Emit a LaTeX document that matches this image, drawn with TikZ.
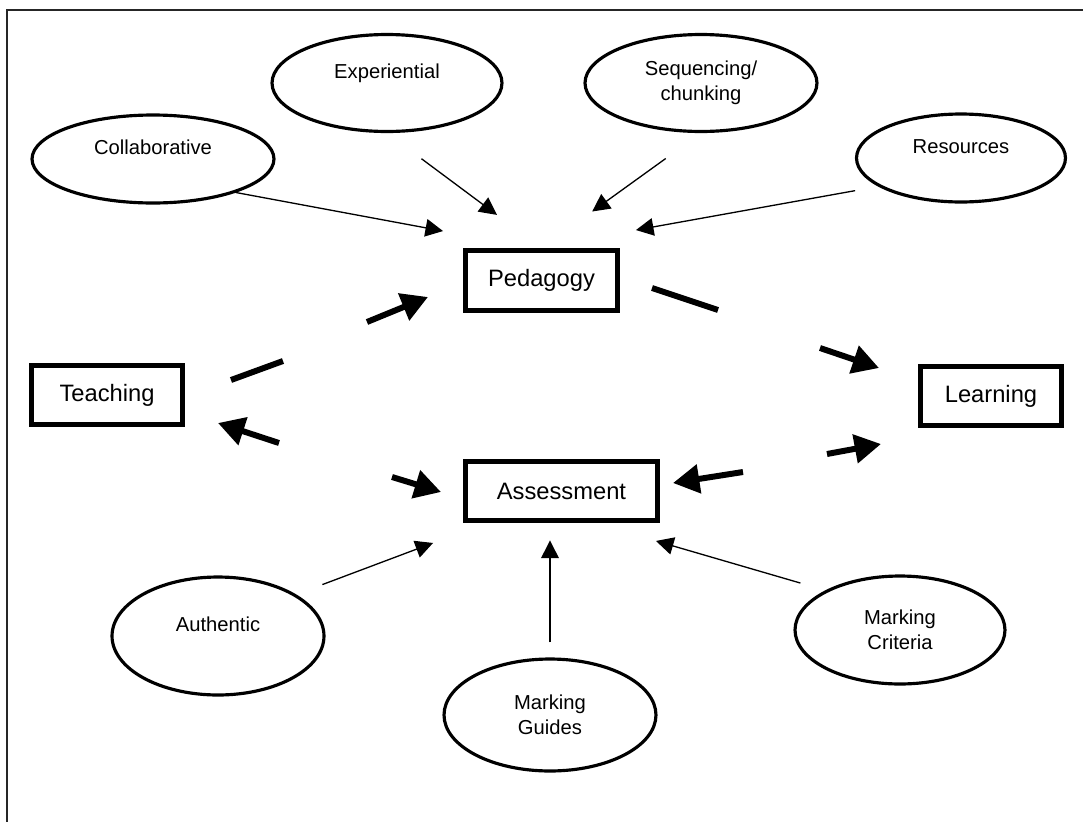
\documentclass[tikz,border=0pt]{standalone}
\usepackage{fontspec}
\setmainfont{Liberation Sans}
\usetikzlibrary{arrows.meta, shapes.geometric}

\tikzset{
    frame/.style={line width=1.1pt, black!85},
    box/.style={draw, rectangle, line width=2.8pt, inner sep=0pt, font=\fontsize{13.5}{16}\selectfont},
    oval/.style={draw, ellipse, line width=1.8pt, inner sep=0pt, align=center, font=\fontsize{11.5}{14}\selectfont},
    raised/.style={text depth=13pt},
    feed/.style={line width=0.75pt, -{Triangle[length=10pt, width=10pt]}},
    bold/.style={line width=3.4pt},
    boldarrow/.style={bold, -{Triangle[length=15pt, width=16pt]}}
}

\begin{document}
\begin{tikzpicture}[x=0.02cm, y=-0.02cm]
        \useasboundingbox (0,0) rectangle (1083,822);

        % Frame
        \draw[frame] (7,822) -- (7,10) -- (1083,10);

        % Teaching
        \node[box, minimum width=3.02cm, minimum height=1.18cm] (teaching) at (107,395) {Teaching};

        % Pedagogy
        \node[box, minimum width=3.04cm, minimum height=1.2cm] (pedagogy) at (541.5,280.5) {Pedagogy};

        % Assessment
        \node[box, minimum width=3.84cm, minimum height=1.18cm] (assessment) at (561.5,491) {Assessment};

        % Learning
        \node[box, minimum width=2.82cm, minimum height=1.18cm] (learning) at (991,396) {Learning};

        % Collaborative
        \node[oval, raised, minimum width=4.84cm, minimum height=1.76cm] (collab) at (153,159) {Collaborative};

        % Experiential
        \node[oval, raised, minimum width=4.6cm, minimum height=1.94cm] (experiential) at (387,83) {Experiential};

        % Sequencing/chunking
        \node[oval, minimum width=4.64cm, minimum height=1.94cm] (sequencing) at (701,83) {Sequencing/\\chunking};

        % Resources
        \node[oval, raised, minimum width=4.18cm, minimum height=1.76cm] (resources) at (961,158) {Resources};

        % Authentic
        \node[oval, raised, minimum width=4.24cm, minimum height=2.36cm] (authentic) at (218,636) {Authentic};

        % Marking Guides
        \node[oval, minimum width=4.24cm, minimum height=2.24cm] (guides) at (550,715) {Marking\\Guides};

        % Marking Criteria
        \node[oval, minimum width=4.2cm, minimum height=2.16cm] (criteria) at (900,630) {Marking\\Criteria};

        % Thin arrows
        \draw[feed] (collab.-22) -- ([shift={(-20,-17)}]pedagogy.north west);
        \draw[feed, shorten <=0.86cm, shorten >=1.11cm] (experiential.south) -- (pedagogy.north);
        \draw[feed, shorten <=0.87cm, shorten >=1.25cm] (sequencing.south) -- (pedagogy.north);
        \draw[feed, shorten <=0.47cm] (resources.199) -- ([shift={(16,-18)}]pedagogy.north east);
        \draw[feed, shorten <=0.56cm] (authentic.28) -- ([shift={(-30,20)}]assessment.south west);
        \draw[feed, shorten <=0.3cm, shorten >=0.35cm] (guides.north) -- (guides.north |- assessment.south);
        \draw[feed, shorten <=0.52cm] (criteria.152) -- ([shift={(-4,18)}]assessment.south east);

        % Broken bold arrows
        \coordinate (tp-a) at (231,380);
        \coordinate (tp-b) at (283,361);
        \coordinate (tp-c) at (367,322);
        \coordinate (tp-d) at (428,297);
        \coordinate (pl-a) at (652,288);
        \coordinate (pl-b) at (718,310);
        \coordinate (pl-c) at (820,348);
        \coordinate (pl-d) at (879,368);
        \coordinate (at-a) at (279,443);
        \coordinate (at-b) at (218,423);
        \coordinate (ta-a) at (392,477);
        \coordinate (ta-b) at (441,492);
        \coordinate (al-a) at (827,454);
        \coordinate (al-b) at (881,444);
        \coordinate (la-a) at (743,472);
        \coordinate (la-b) at (673,483);

        \draw[bold] (tp-a) -- (tp-b);
        \draw[boldarrow] (tp-c) -- (tp-d);
        \draw[bold] (pl-a) -- (pl-b);
        \draw[boldarrow] (pl-c) -- (pl-d);
        \draw[boldarrow] (at-a) -- (at-b);
        \draw[boldarrow] (ta-a) -- (ta-b);
        \draw[boldarrow] (al-a) -- (al-b);
        \draw[boldarrow] (la-a) -- (la-b);
    \end{tikzpicture}
\end{document}
